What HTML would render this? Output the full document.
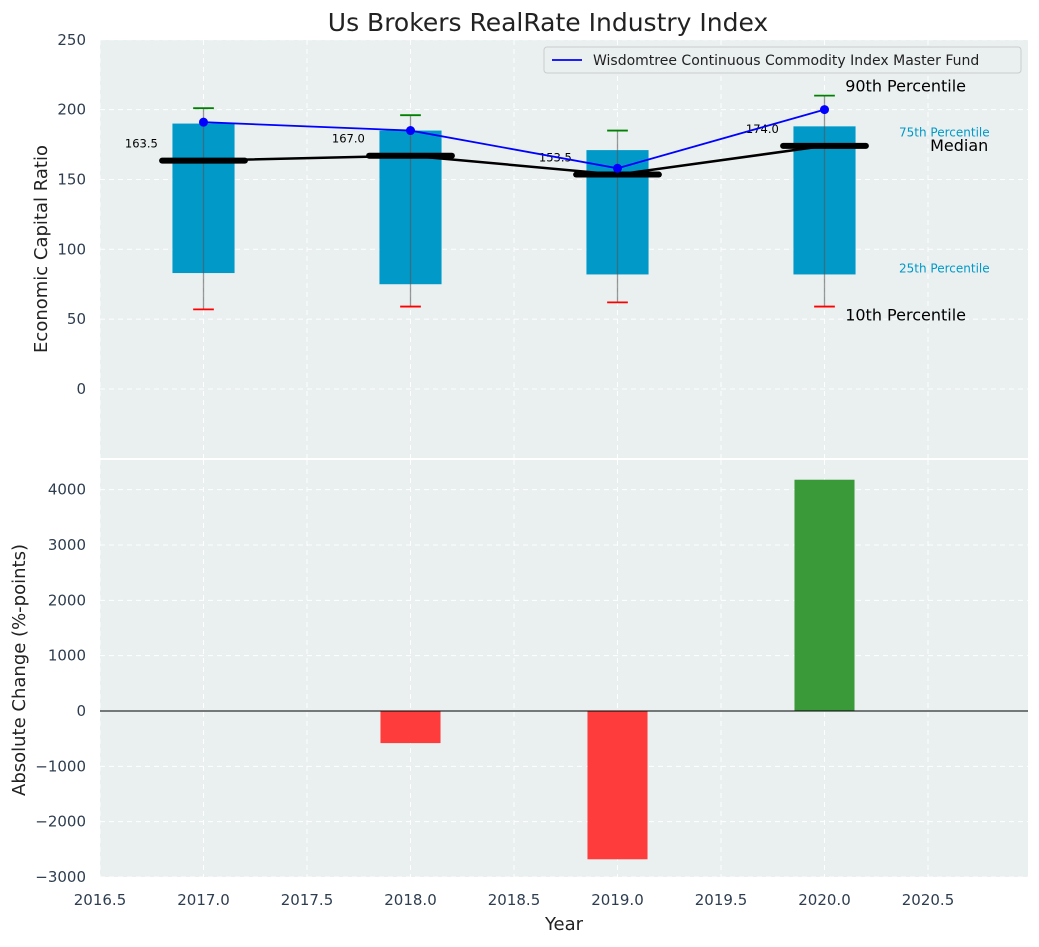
<!DOCTYPE html>
<html><head><meta charset="utf-8"><style>
body{margin:0;background:#fff;font-family:"Liberation Sans","DejaVu Sans",sans-serif}
</style></head><body>
<svg id="c" width="1039" height="942" xmlns="http://www.w3.org/2000/svg" font-family="DejaVu Sans, Liberation Sans, sans-serif"></svg>
<script>
const years=[2017,2018,2019,2020];
const q25=[83,75,82,82];
const q75=[190,185,171,188];
const p10=[57,59,62,59];
const p90=[201,196,185,210];
const medians=[163.5,167.0,153.5,174.0];
const fund=[191,185,158,200];
const changes=[0,-580,-2680,4180];
const xTicks=[2016.5,2017,2017.5,2018,2018.5,2019,2019.5,2020,2020.5];
const yTopTicks=[0,50,100,150,200,250];
const yBotTicks=[-3000,-2000,-1000,0,1000,2000,3000,4000];

const svg=document.getElementById('c');const NS='http://www.w3.org/2000/svg';
function el(t,a,p){const e=document.createElementNS(NS,t);for(const k in a)e.setAttribute(k,a[k]);(p||svg).appendChild(e);return e;}
const L=100,R=1028;
const X=v=>L+(v-2016.5)*207;
const T0=40,T1=458,B0=460,B1=877;
const YT=v=>389-v*1.397;
const YB=v=>711-v*0.05533;
let e=el('rect',{x:L,y:T0,width:R-L,height:T1-T0,fill:'#eaeff0'});

e=el('rect',{x:L,y:B0,width:R-L,height:B1-B0,fill:'#eaeff0'});

xTicks.forEach(t=>{[[T0,T1],[B0,B1]].forEach(r=>{const g=el('line',{x1:X(t),x2:X(t),y1:r[0],y2:r[1],stroke:'#fff','stroke-dasharray':'5,4','stroke-width':1});});
 const tx=el('text',{x:X(t),y:905,'text-anchor':'middle','font-size':15,fill:'#2e3d4f'});tx.textContent=t.toFixed(1);
 });
yTopTicks.forEach(t=>{const g=el('line',{x1:L,x2:R,y1:YT(t),y2:YT(t),stroke:'#fff','stroke-dasharray':'5,4'});
 const tx=el('text',{x:86,y:YT(t)+5,'text-anchor':'end','font-size':15,fill:'#2e3d4f'});tx.textContent=t;});
yBotTicks.forEach(t=>{const g=el('line',{x1:L,x2:R,y1:YB(t),y2:YB(t),stroke:'#fff','stroke-dasharray':'5,4'});
 const tx=el('text',{x:86,y:YB(t)+5,'text-anchor':'end','font-size':15,fill:'#2e3d4f'});tx.textContent=t<0?'\u2212'+(-t):t;});
years.forEach((y,i)=>{
 const b=el('rect',{x:X(y-0.15),y:YT(q75[i]),width:X(y+0.15)-X(y-0.15),height:YT(q25[i])-YT(q75[i]),fill:'#0099c8'});
 
 const w=el('line',{x1:X(y),x2:X(y),y1:YT(p90[i]),y2:YT(p10[i]),stroke:'#555','stroke-opacity':0.6,'stroke-width':1.3});
 
 const c1=el('line',{x1:X(y-0.05),x2:X(y+0.05),y1:YT(p90[i]),y2:YT(p90[i]),stroke:'green','stroke-width':1.8});
 
 const c2=el('line',{x1:X(y-0.05),x2:X(y+0.05),y1:YT(p10[i]),y2:YT(p10[i]),stroke:'red','stroke-width':1.8});
 
});
const ml=el('polyline',{points:years.map((y,i)=>X(y)+','+YT(medians[i])).join(' '),fill:'none',stroke:'#000','stroke-width':2.5});

years.forEach((y,i)=>{
 const s=el('line',{x1:X(y-0.2),x2:X(y+0.2),y1:YT(medians[i]),y2:YT(medians[i]),stroke:'#000','stroke-width':6,'stroke-linecap':'round'});
 
 const t=el('text',{x:X(y-0.3),y:YT(medians[i])-13,'text-anchor':'middle','font-size':11.5,fill:'#000'});t.textContent=medians[i].toFixed(1);
 
});
const fl=el('polyline',{points:years.map((y,i)=>X(y)+','+YT(fund[i])).join(' '),fill:'none',stroke:'#0000ff','stroke-width':1.8});

years.forEach((y,i)=>{const d=el('circle',{cx:X(y),cy:YT(fund[i]),r:4.5,fill:'#0000ff'});});
const li=years.length-1, lx=years[li];
function ann(txt,x,y,size,col,name){const t=el('text',{x:x,y:y,'font-size':size,fill:col});t.textContent=txt;}
ann('90th Percentile',X(lx+0.1),YT(p90[li])-4,16,'#000','p90-annotation');
ann('75th Percentile',X(lx+0.36),YT(q75[li])+10,12,'#0099c8','p75-annotation');
ann('Median',X(lx+0.51),YT(medians[li])+5,16,'#000','median-annotation');
ann('25th Percentile',X(lx+0.36),YT(q25[li])-2,12,'#0099c8','p25-annotation');
ann('10th Percentile',X(lx+0.1),YT(p10[li])+14,16,'#000','p10-annotation');
years.forEach((y,i)=>{const v=changes[i];if(!v)return;
 const b=el('rect',{x:X(y-0.145),y:Math.min(YB(0),YB(v)),width:X(y+0.145)-X(y-0.145),height:Math.abs(YB(v)-YB(0)),fill:v<0?'#ff3c3c':'#3a9a3a'});
 });
e=el('line',{x1:L,x2:R,y1:YB(0),y2:YB(0),stroke:'#000','stroke-width':1});
const lg=el('g',{});
el('rect',{x:544,y:47,width:477,height:26,rx:3,fill:'#eaeff0',stroke:'#ccc'},lg);
el('line',{x1:552,x2:582,y1:60,y2:60,stroke:'#0000ff','stroke-width':1.8},lg);
const lt=el('text',{x:593,y:65,'font-size':14,fill:'#222'},lg);lt.textContent='Wisdomtree Continuous Commodity Index Master Fund';
ann('Us Brokers RealRate Industry Index',548,31,25,'#222','chart-title');svg.lastChild.setAttribute('text-anchor','middle');
ann('Year',564,930,18,'#222','x-axis-title');svg.lastChild.setAttribute('text-anchor','middle');
let t=el('text',{x:47,y:249,'font-size':18,fill:'#222','text-anchor':'middle',transform:'rotate(-90 47 249)'});t.textContent='Economic Capital Ratio';
t=el('text',{x:25,y:670,'font-size':18,fill:'#222','text-anchor':'middle',transform:'rotate(-90 25 670)'});t.textContent='Absolute Change (%-points)';
</script>
</body></html>
